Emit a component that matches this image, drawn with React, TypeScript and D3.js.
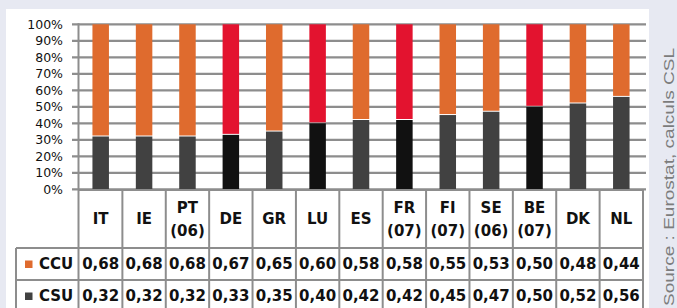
import * as d3 from "d3";

// country codes, optional year note, and shares (CCU on top, CSU at bottom)
const codes = ["IT", "IE", "PT", "DE", "GR", "LU", "ES", "FR", "FI", "SE", "BE", "DK", "NL"];
const years = ["", "", "(06)", "", "", "", "", "(07)", "(07)", "(06)", "(07)", "", ""];
const ccu = [0.68, 0.68, 0.68, 0.67, 0.65, 0.6, 0.58, 0.58, 0.55, 0.53, 0.5, 0.48, 0.44];
const csu = [0.32, 0.32, 0.32, 0.33, 0.35, 0.4, 0.42, 0.42, 0.45, 0.47, 0.5, 0.52, 0.56];
const highlighted = ["DE", "LU", "FR", "BE"];
const yTicks = [0, 0.1, 0.2, 0.3, 0.4, 0.5, 0.6, 0.7, 0.8, 0.9, 1];
const seriesNames = ["CCU", "CSU"];
const source = "Source : Eurostat, calculs CSL";

const W = 677;
const H = 308;
const orange = "#df6b2e";
const red = "#e3132f";
const grey = "#414141";
const black = "#111111";
const lineCol = "#8d8d8d";
const font = "DejaVu Sans, Verdana, sans-serif";

const fmt = (v: number) => v.toFixed(2).replace(".", ",");

export default function App() {
  const x = d3.scaleBand<string>().domain(codes).range([79, 643]);
  const y = d3.scaleLinear().domain([0, 1]).range([189.3, 24.3]);
  const barW = 16.5;

  const headTop = 190;
  const headBottom = 248;
  const rowH = 32;
  const rowsY = [headBottom, headBottom + rowH];

  return (
    <svg
      width={W}
      height={H}
      style={{ position: "absolute", left: 0, top: 0, display: "block" }}
      fontFamily={font}
    >
      <rect x={0} y={0} width={W} height={H} fill="#e7e9f2" />
      <rect x={6} y={9} width={643} height={H} fill="#ffffff" />

      {/* gridlines */}
      {yTicks.map((t) => (
        <line
          key={t}
          x1={72}
          x2={646}
          y1={y(t)}
          y2={y(t)}
          stroke={lineCol}
          strokeWidth={2.2}
        />
      ))}
      <line x1={78.5} x2={78.5} y1={y(1) - 1} y2={H} stroke={lineCol} strokeWidth={2} />

      {yTicks.map((t) => (
        <text
          key={"l" + t}
          x={63}
          y={y(t)}
          dy="0.35em"
          textAnchor="end"
          fontSize={12.5}
          fill="#111"
        >
          {Math.round(t * 100)}%
        </text>
      ))}

      {/* bars */}
      {codes.map((c, i) => {
        const hi = highlighted.includes(c);
        const cx = (x(c) as number) + x.bandwidth() / 2;
        const yb = y(csu[i]);
        return (
          <g key={c}>
            <rect
              x={cx - barW / 2}
              y={yb}
              width={barW}
              height={y(0) - yb}
              fill={hi ? black : grey}
            />
            <rect
              x={cx - barW / 2}
              y={y(1)}
              width={barW}
              height={yb - y(1) - 1}
              fill={hi ? red : orange}
            />
          </g>
        );
      })}

      {/* table */}
      <g stroke={lineCol} strokeWidth={2} fill="none">
        <line x1={78} x2={644} y1={headTop} y2={headTop} />
        {rowsY.map((ry) => (
          <line key={ry} x1={16} x2={644} y1={ry} y2={ry} />
        ))}
        <line x1={16} x2={16} y1={headBottom} y2={H} />
        {codes.map((c) => (
          <line
            key={c}
            x1={(x(c) as number) + x.bandwidth()}
            x2={(x(c) as number) + x.bandwidth()}
            y1={headTop}
            y2={H}
          />
        ))}
      </g>

      {codes.map((c, i) => {
        const cx = (x(c) as number) + x.bandwidth() / 2;
        const mid = (headTop + headBottom) / 2;
        return (
          <g key={"h" + c} fontWeight="bold" fontSize={15} fill="#111" textAnchor="middle">
            {years[i] ? (
              <>
                <text x={cx} y={mid - 11} dy="0.35em">
                  {c}
                </text>
                <text x={cx} y={mid + 12} dy="0.35em">
                  {years[i]}
                </text>
              </>
            ) : (
              <text x={cx} y={mid} dy="0.35em">
                {c}
              </text>
            )}
            <text x={cx} y={rowsY[0] + rowH / 2} dy="0.35em">
              {fmt(ccu[i])}
            </text>
            <text x={cx} y={rowsY[1] + rowH / 2} dy="0.35em">
              {fmt(csu[i])}
            </text>
          </g>
        );
      })}

      {seriesNames.map((s, k) => (
        <g key={s}>
          <rect
            x={25}
            y={rowsY[k] + rowH / 2 - 3.5}
            width={7.5}
            height={7.5}
            fill={k === 0 ? orange : grey}
          />
          <text
            x={39}
            y={rowsY[k] + rowH / 2}
            dy="0.35em"
            fontSize={15}
            fontWeight="bold"
            fill="#111"
          >
            {s}
          </text>
        </g>
      ))}

      <text
        transform="translate(673.5,48) rotate(-90)"
        textAnchor="end"
        fontFamily="Liberation Sans, Arial, sans-serif"
        fontSize={15.5}
        textLength={258}
        lengthAdjust="spacingAndGlyphs"
        fill="#7c7c7c"
      >
        {source}
      </text>
    </svg>
  );
}
